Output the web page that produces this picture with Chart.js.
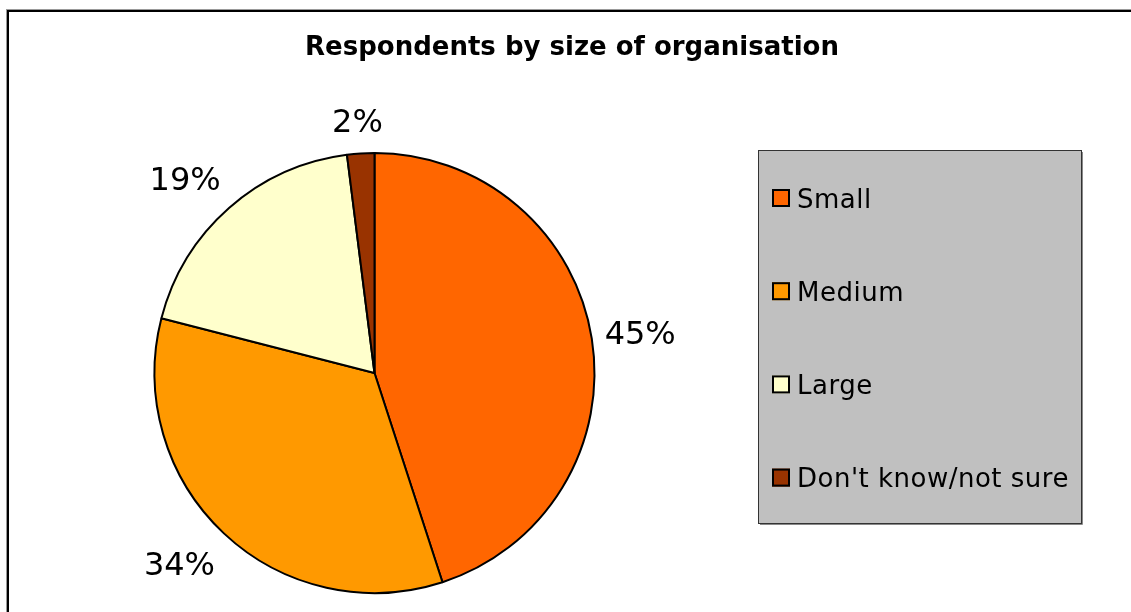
<!DOCTYPE html>
<html>
<head>
<meta charset="utf-8">
<title>Respondents by size of organisation</title>
<script src="https://cdn.jsdelivr.net/npm/chart.js@4/dist/chart.umd.min.js"></script>
<style>
body { margin: 0; background: #fff; }
canvas { display: block; }
</style>
</head>
<body>
<canvas id="orgSizePie" width="1131" height="612"></canvas>

<script>
// survey breakdown, percent of respondents
var categories = ['Small', 'Medium', 'Large', "Don't know/not sure"];
var shares = [45, 34, 19, 2];
var sliceColours = ['#FF6600', '#FF9900', '#FFFFCC', '#993300'];
var chartTitle = 'Respondents by size of organisation';

var FONT = '"DejaVu Sans", Verdana, sans-serif';

// frame, title and the grey legend panel
var chrome = {
  id: 'chrome',
  beforeDraw: function(chart) {
    var ctx = chart.ctx;
    ctx.save();
    ctx.fillStyle = '#fff';
    ctx.fillRect(0, 0, chart.width, chart.height);

    // outer frame runs off the right and bottom edges
    ctx.strokeStyle = '#999';
    ctx.lineWidth = 1;
    ctx.strokeRect(6.5, 9.5, chart.width + 20, chart.height + 20);
    ctx.strokeStyle = '#000';
    ctx.lineWidth = 2;
    ctx.strokeRect(8, 11, chart.width + 20, chart.height + 20);

    ctx.fillStyle = '#000';
    ctx.font = 'bold 26px ' + FONT;
    ctx.textAlign = 'center';
    ctx.textBaseline = 'alphabetic';
    ctx.fillText(chartTitle, 572, 55);

    // legend panel with a thin shadow on the lower right
    var lx = 758, ly = 150, lw = 323, lh = 373;
    ctx.fillStyle = '#C0C0C0';
    ctx.fillRect(lx, ly, lw, lh);
    ctx.strokeStyle = '#333';
    ctx.lineWidth = 1;
    ctx.strokeRect(lx + 0.5, ly + 0.5, lw, lh);
    ctx.strokeStyle = '#888';
    ctx.beginPath();
    ctx.moveTo(lx + lw + 1.5, ly + 2);
    ctx.lineTo(lx + lw + 1.5, ly + lh + 1.5);
    ctx.lineTo(lx + 2, ly + lh + 1.5);
    ctx.stroke();

    ctx.font = '26px ' + FONT;
    ctx.textAlign = 'left';
    ctx.letterSpacing = '0.5px';
    var colours = chart.data.datasets[0].backgroundColor;
    chart.data.labels.forEach(function(name, i) {
      var cy = 198 + i * 93.2;
      ctx.fillStyle = colours[i];
      ctx.fillRect(772, cy - 9, 18, 18);
      ctx.strokeStyle = '#000';
      ctx.lineWidth = 2;
      ctx.strokeRect(773, cy - 8, 16, 16);
      ctx.fillStyle = '#000';
      ctx.fillText(name, 797, cy + 9.5);
    });
    ctx.restore();
  },
  // percentage labels outside each slice
  afterDatasetsDraw: function(chart) {
    var ctx = chart.ctx;
    var meta = chart.getDatasetMeta(0);
    ctx.save();
    ctx.font = '32px ' + FONT;
    ctx.fillStyle = '#000';
    ctx.textAlign = 'center';
    ctx.textBaseline = 'alphabetic';
    meta.data.forEach(function(arc, i) {
      var p = arc.getProps(['x', 'y', 'startAngle', 'endAngle', 'outerRadius'], true);
      var mid = (p.startAngle + p.endAngle) / 2;
      var ux = Math.cos(mid), uy = Math.sin(mid);
      var text = chart.data.datasets[0].data[i] + '%';
      var hw = ctx.measureText(text).width / 2, hh = 20;
      var r = p.outerRadius + 13;
      var sx = Math.sign(ux) * Math.min(1, 1.5 * Math.abs(ux));
      var sy = Math.sign(uy) * Math.min(1, 1.5 * Math.abs(uy));
      var cx = p.x + r * ux + hw * sx;
      var cy = p.y + r * uy + hh * sy;
      ctx.fillText(text, cx, cy + 11.7);
    });
    ctx.restore();
  }
};

new Chart(document.getElementById('orgSizePie'), {
  type: 'pie',
  data: {
    labels: categories,
    datasets: [{
      data: shares,
      backgroundColor: sliceColours,
      borderColor: '#000',
      borderWidth: 2,
      hoverBorderWidth: 2,
      hoverOffset: 0
    }]
  },
  options: {
    responsive: false,
    animation: false,
    events: [],
    layout: { padding: { left: 153.5, top: 152, right: 535.5, bottom: 18 } },
    plugins: {
      legend: { display: false },
      title: { display: false },
      tooltip: { enabled: false }
    }
  },
  plugins: [chrome]
});
</script>
</body>
</html>
